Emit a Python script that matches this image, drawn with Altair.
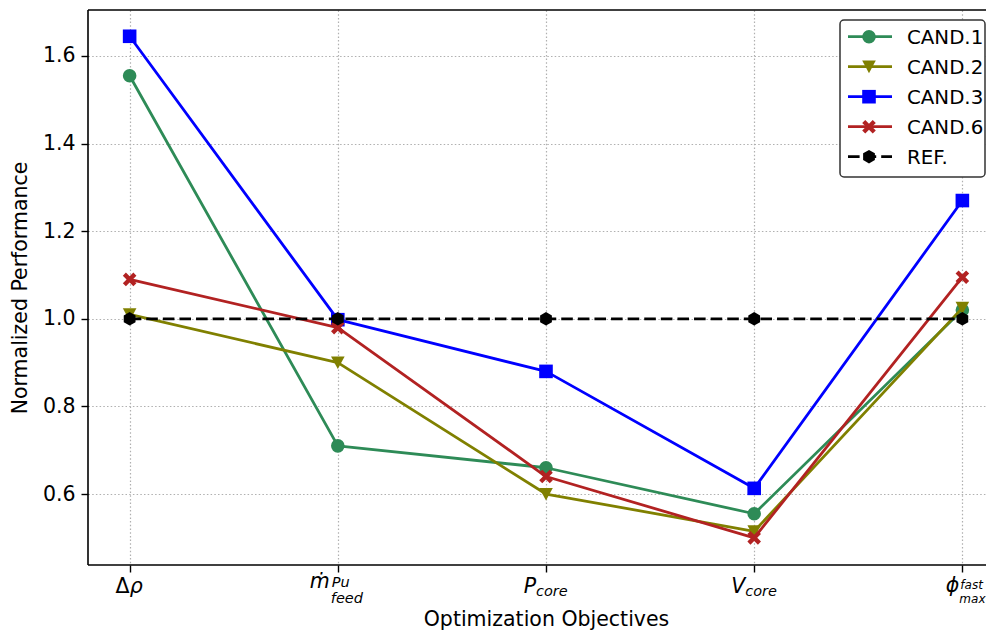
import altair as alt
import pandas as pd

# ---------------- data ----------------
objectives = ["drho", "mfeed", "Pcore", "Vcore", "phimax"]
label_main = ["Δρ", "ṁ", "P", "V", "ϕ"]
label_sup = ["", "Pu", "", "", "fast"]
label_sub = ["", "feed", "core", "core", "max"]

series_names = ["CAND.1", "CAND.2", "CAND.3", "CAND.6", "REF."]
cand1 = [1.555, 0.71, 0.66, 0.555, 1.02]
cand2 = [1.01, 0.90, 0.60, 0.515, 1.025]
cand3 = [1.645, 0.998, 0.88, 0.613, 1.27]
cand6 = [1.09, 0.98, 0.64, 0.50, 1.095]
ref = [1.0, 1.0, 1.0, 1.0, 1.0]
series_values = [cand1, cand2, cand3, cand6, ref]

y_ticks = [0.6, 0.8, 1.0, 1.2, 1.4, 1.6]

# ---------------- styles ----------------
FONT = "DejaVu Sans"
colors = ["#2e8b57", "#808000", "#0000ff", "#b22222", "#000000"]
HEX = "M0,-1L0.866,-0.5L0.866,0.5L0,1L-0.866,0.5L-0.866,-0.5Z"
XSHAPE = ("M0,-0.45L0.55,-1L1,-0.55L0.45,0L1,0.55L0.55,1L0,0.45L-0.55,1"
          "L-1,0.55L-0.45,0L-1,-0.55L-0.55,-1Z")
TRI_DOWN = "M-1,-0.9L1,-0.9L0,0.95Z"
shapes = ["circle", TRI_DOWN, "square", XSHAPE, HEX]
dashes = [None, None, None, None, [11.6, 5]]
LW = 2.8
MSIZE = 185

W, H = 898, 555          # visible plot area (right part of the frame is cropped)
FULL_W = 916             # full axis length of the original figure

xscale = alt.Scale(type="point", domain=objectives, padding=0.2, range=[0, FULL_W])
yscale = alt.Scale(domain=[0.438, 1.705], nice=False, zero=False)

X = alt.X("obj:N", scale=xscale, sort=objectives,
          axis=alt.Axis(labels=False, ticks=True, tickSize=7, tickColor="black",
                        tickWidth=1.4, domain=False, grid=True,
                        title="Optimization Objectives", titleFontSize=20.5,
                        titleFont=FONT, titleFontWeight="normal", titleColor="black",
                        titleBaseline="alphabetic", titleY=60, titleX=458,
                        titleAnchor="middle"))
Y = alt.Y("val:Q", scale=yscale,
          axis=alt.Axis(values=y_ticks, format=".1f", tickSize=7, tickColor="black",
                        tickWidth=1.4, domain=False, grid=True, labelPadding=6,
                        labelFontSize=20.5, labelFont=FONT, labelColor="black",
                        title="Normalized Performance", titleFontSize=20.5,
                        titleFont=FONT, titleFontWeight="normal", titleColor="black",
                        titlePadding=12))

layers = []
for i, (name, vals) in enumerate(zip(series_names, series_values)):
    df = pd.DataFrame({"obj": objectives, "val": vals, "series": name})
    lkw = dict(color=colors[i], strokeWidth=LW, strokeJoin="round")
    if dashes[i] is not None:
        lkw["strokeDash"] = dashes[i]
    layers.append(alt.Chart(df).mark_line(**lkw).encode(x=X, y=Y))
    layers.append(alt.Chart(df).mark_point(filled=True, shape=shapes[i], size=MSIZE,
                                           color=colors[i], opacity=1)
                  .encode(x=X, y=Y))

# ---------------- frame (left, top, bottom spines) ----------------
one = pd.DataFrame({"k": [0]})
spine = dict(color="black", strokeWidth=1.6)
layers.append(alt.Chart(one).mark_rule(**spine)
              .encode(x=alt.value(0), y=alt.value(0), y2=alt.value(H)))
layers.append(alt.Chart(one).mark_rule(**spine)
              .encode(x=alt.value(0), x2=alt.value(W), y=alt.value(0)))
layers.append(alt.Chart(one).mark_rule(**spine)
              .encode(x=alt.value(0), x2=alt.value(W), y=alt.value(H)))

# ---------------- custom x tick labels (math style) ----------------
MAIN_FS, SUB_FS = 20.5, 14.5
PHI_SUB_FS = 12
# per label: (part text, align, dx, baseline y in plot px, size, style)
label_layout = {
    0: [("Δ", "right", 0, 583, MAIN_FS, "normal"),
        ("ρ", "left", 0, 583, MAIN_FS, "italic")],
    1: [(label_main[1], "right", -8, 578, MAIN_FS, "italic"),
        (label_sup[1], "left", -6, 577, SUB_FS, "italic"),
        (label_sub[1], "left", -7, 593, SUB_FS, "italic")],
    2: [(label_main[2], "right", -10, 583, MAIN_FS, "italic"),
        (label_sub[2], "left", -10, 586, SUB_FS, "italic")],
    3: [(label_main[3], "right", -9, 583, MAIN_FS, "italic"),
        (label_sub[3], "left", -9, 586, SUB_FS, "italic")],
    4: [(label_main[4], "right", -3, 582, MAIN_FS, "italic"),
        (label_sup[4], "left", -2, 579, PHI_SUB_FS, "italic"),
        (label_sub[4], "left", -3, 593, PHI_SUB_FS, "italic")],
}
for idx, parts in label_layout.items():
    for (txt, align, dx, yb, fs, style) in parts:
        d = pd.DataFrame({"obj": [objectives[idx]], "t": [txt]})
        layers.append(alt.Chart(d).mark_text(align=align, baseline="alphabetic", dx=dx,
                                             fontSize=fs, fontStyle=style, font=FONT,
                                             color="black")
                      .encode(x=X, y=alt.value(yb), text="t:N"))

# ---------------- legend (drawn manually) ----------------
layers.append(alt.Chart(one).mark_rect(fill="white", stroke="#333333", strokeWidth=1.5,
                                       cornerRadius=4)
              .encode(x=alt.value(752), x2=alt.value(897), y=alt.value(10), y2=alt.value(167)))
leg_y = [26.7, 56.7, 86.7, 116.7, 146.7]
for i, name in enumerate(series_names):
    d = pd.DataFrame({"name": [name]})
    rkw = dict(color=colors[i], strokeWidth=LW)
    if dashes[i] is not None:
        rkw["strokeDash"] = dashes[i]
    layers.append(alt.Chart(d).mark_rule(**rkw)
                  .encode(x=alt.value(760), x2=alt.value(804), y=alt.value(leg_y[i])))
    layers.append(alt.Chart(d).mark_point(filled=True, shape=shapes[i], size=MSIZE,
                                          color=colors[i], opacity=1)
                  .encode(x=alt.value(781), y=alt.value(leg_y[i])))
    layers.append(alt.Chart(d).mark_text(align="left", baseline="alphabetic", fontSize=19.8,
                                         font=FONT, color="black")
                  .encode(x=alt.value(819), y=alt.value(leg_y[i] + 7.3), text="name:N"))

chart = (alt.layer(*layers)
         .properties(width=W, height=H, background="white",
                     padding={"left": 80, "top": 2, "right": 0, "bottom": 67},
                     autosize=alt.AutoSizeParams(type="none"))
         .configure_view(stroke="transparent")
         .configure_axis(gridColor="#b0b0b0", gridDash=[1.5, 2.2], gridWidth=1.2,
                         gridOpacity=1))

chart.save("out.html", embed_options={"renderer": "svg", "actions": False})
